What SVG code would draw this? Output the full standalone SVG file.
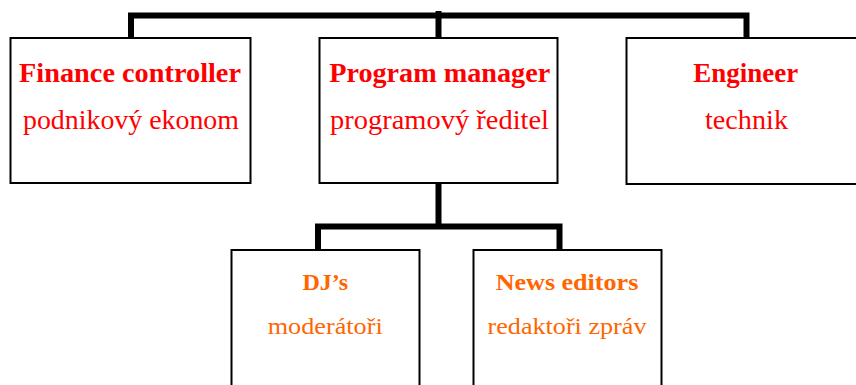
<svg xmlns="http://www.w3.org/2000/svg" width="856" height="385" viewBox="0 0 856 385">
<style>
.box{fill:#fff;stroke:#000;stroke-width:2}
.conn{fill:none;stroke:#000;stroke-width:6;stroke-linecap:butt;stroke-linejoin:miter}
text{font-family:"Liberation Serif","DejaVu Serif",serif;text-anchor:middle}
.t1{font-weight:bold;font-size:27.5px;fill:#ff0000}
.s1{font-size:27.5px;fill:#ff0000}
.t2{font-weight:bold;font-size:24px;fill:#ff6600}
.s2{font-size:24px;fill:#ff6600}
</style>
<rect width="856" height="385" fill="#fff"/>
<g id="connectors">
<polyline class="conn" points="131,38 131,15.5 746.5,15.5 746.5,38"/>
<line class="conn" x1="438.5" y1="11" x2="438.5" y2="38"/>
<line class="conn" x1="438.5" y1="183" x2="438.5" y2="227"/>
<polyline class="conn" points="318,250 318,226.5 559.5,226.5 559.5,250"/>
</g>
<g id="finance">
<rect class="box" x="10.5" y="38" width="240" height="145"/>
<text class="t1" x="130" y="82" textLength="222" lengthAdjust="spacingAndGlyphs">Finance controller</text>
<text class="s1" x="131" y="129" textLength="216" lengthAdjust="spacingAndGlyphs">podnikový ekonom</text>
</g>
<g id="program">
<rect class="box" x="319.5" y="38" width="238" height="145"/>
<text class="t1" x="439.7" y="81.5" textLength="221" lengthAdjust="spacingAndGlyphs">Program manager</text>
<text class="s1" x="439.5" y="128.5" textLength="219" lengthAdjust="spacingAndGlyphs">programový ředitel</text>
</g>
<g id="engineer">
<rect class="box" x="626.5" y="38" width="240" height="146"/>
<text class="t1" x="745.8" y="81.5" textLength="105" lengthAdjust="spacingAndGlyphs">Engineer</text>
<text class="s1" x="746.5" y="128.5" textLength="83" lengthAdjust="spacingAndGlyphs">technik</text>
</g>
<g id="djs">
<rect class="box" x="231.5" y="250" width="188" height="145"/>
<text class="t2" x="325.3" y="290" font-size="25px">DJ’s</text>
<text class="s2" x="325.2" y="334" textLength="115" lengthAdjust="spacingAndGlyphs">moderátoři</text>
</g>
<g id="news">
<rect class="box" x="473.5" y="250" width="188" height="145"/>
<text class="t2" x="567" y="290" textLength="142.6" lengthAdjust="spacingAndGlyphs">News editors</text>
<text class="s2" x="567" y="334" textLength="159" lengthAdjust="spacingAndGlyphs">redaktoři zpráv</text>
</g>
</svg>
